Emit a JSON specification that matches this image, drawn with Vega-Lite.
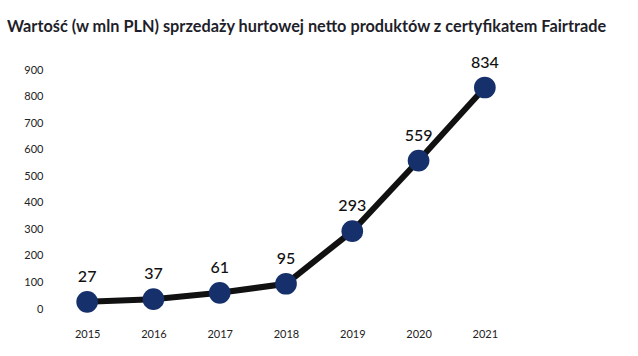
{
  "$schema": "https://vega.github.io/schema/vega-lite/v6.json",
  "width": 464,
  "height": 239,
  "autosize": {"type": "none"},
  "padding": {"left": 54, "top": 70, "right": 120, "bottom": 47},
  "background": "white",
  "title": {
    "text": "Wartość  (w mln PLN) sprzedaży hurtowej netto produktów z certyfikatem Fairtrade",
    "anchor": "start",
    "frame": "group",
    "font": "Lato",
    "fontSize": 16.3,
    "fontWeight": "bold",
    "color": "#1f1f2b",
    "dx": -47,
    "offset": 19
  },
  "data": {
    "values": [
      {"year": "2015", "value": 27},
      {"year": "2016", "value": 37},
      {"year": "2017", "value": 61},
      {"year": "2018", "value": 95},
      {"year": "2019", "value": 293},
      {"year": "2020", "value": 559},
      {"year": "2021", "value": 834}
    ]
  },
  "config": {
    "view": {"stroke": null},
    "font": "Lato"
  },
  "encoding": {
    "x": {
      "field": "year",
      "type": "ordinal",
      "scale": {"type": "point", "padding": 0.5},
      "axis": {
        "title": null,
        "domain": false,
        "ticks": false,
        "labelAngle": 0,
        "labelFontSize": 11,
        "labelColor": "#222",
        "labelPadding": 19,
        "labelFont": "Lato"
      }
    },
    "y": {
      "field": "value",
      "type": "quantitative",
      "scale": {"domain": [0, 900], "nice": false},
      "axis": {
        "title": null,
        "domain": false,
        "ticks": false,
        "grid": false,
        "values": [0, 100, 200, 300, 400, 500, 600, 700, 800, 900],
        "labelFontSize": 11,
        "labelColor": "#222",
        "labelPadding": 11,
        "labelFont": "Lato"
      }
    }
  },
  "layer": [
    {"mark": {"type": "line", "color": "#111111", "strokeWidth": 6}},
    {"mark": {"type": "point", "filled": true, "opacity": 1, "color": "#15306a", "size": 470}},
    {
      "mark": {"type": "text", "dy": -25, "fontSize": 16, "fontWeight": 500, "color": "#111", "font": "Lato", "baseline": "middle"},
      "encoding": {"text": {"field": "value", "type": "quantitative"}}
    }
  ]
}
